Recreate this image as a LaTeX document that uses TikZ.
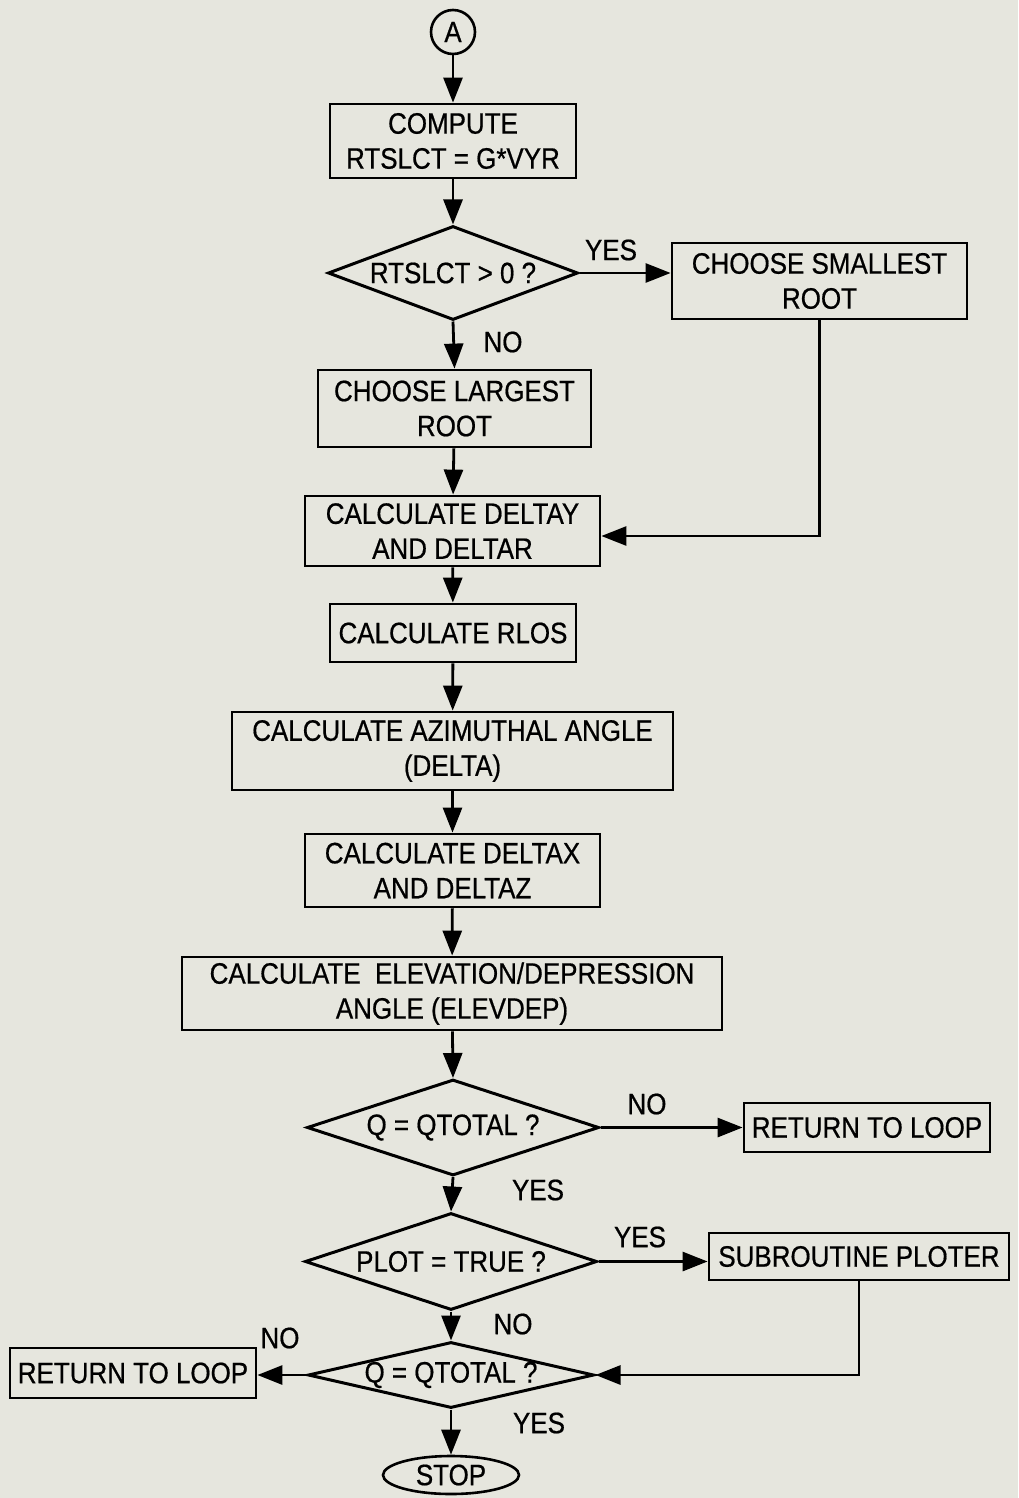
\documentclass[tikz,border=0pt]{standalone}
\usepackage{fontspec}
\setmainfont{Liberation Sans}[FakeStretch=0.88,FakeBold=0.6]
\usetikzlibrary{shapes.geometric,arrows.meta}
\definecolor{paper}{RGB}{230,230,222}
\begin{document}
\begin{tikzpicture}[x=1pt,y=-1pt,
  every node/.style={font=\fontsize{29.5}{35}\selectfont, text=black},
  box/.style={draw, line width=2.8pt, rectangle, inner sep=0pt, align=center},
  dia/.style={draw, line width=3pt, diamond, inner sep=0pt, shape aspect=4},
  lbl/.style={inner sep=0pt},
  flow/.style={line width=2.8pt, -{Triangle[length=25pt,width=19pt]}}
]
\fill[paper] (0,0) rectangle (1018,1498);
\useasboundingbox (0,0) rectangle (1018,1498);

\node[draw, circle, line width=2.6pt, minimum size=44pt, inner sep=0pt] (A) at (453,32) {A};
\node[box, minimum width=246pt, minimum height=74pt] (b1) at (453,141) {COMPUTE\\RTSLCT = G*VYR};
\node[dia, minimum width=250pt, minimum height=94pt] (d1) at (453,273) {\makebox[0pt]{RTSLCT > 0 ?}};
\node[box, minimum width=295pt, minimum height=76pt] (small) at (819.5,281) {CHOOSE SMALLEST\\ROOT};
\node[box, minimum width=273pt, minimum height=77pt] (large) at (454.5,408.5) {CHOOSE LARGEST\\ROOT};
\node[box, minimum width=295pt, minimum height=70pt] (dy) at (452.5,531) {CALCULATE DELTAY\\AND DELTAR};
\node[box, minimum width=246pt, minimum height=58pt] (rlos) at (453,633) {CALCULATE RLOS};
\node[box, minimum width=441pt, minimum height=78pt] (azim) at (452.5,751) {CALCULATE AZIMUTHAL ANGLE\\(DELTA)};
\node[box, minimum width=295pt, minimum height=73pt] (dx) at (452.5,870.5) {CALCULATE DELTAX\\AND DELTAZ};
\node[box, minimum width=540pt, minimum height=73pt] (elev) at (452,993.5) {CALCULATE \ ELEVATION/DEPRESSION\\ANGLE (ELEVDEP)};
\node[dia, minimum width=292pt, minimum height=96pt] (d2) at (453,1127.5) {\makebox[0pt]{Q = QTOTAL ?}};
\node[box, minimum width=246pt, minimum height=49pt] (ret1) at (867,1127.5) {RETURN TO LOOP};
\node[dia, minimum width=292pt, minimum height=97pt] (d3) at (451,1261.5) {\makebox[0pt]{PLOT = TRUE ?}};
\node[box, minimum width=300pt, minimum height=47pt] (plot) at (859,1256.5) {SUBROUTINE PLOTER};
\node[dia, minimum width=286pt, minimum height=66pt] (d4) at (451,1375) {\makebox[0pt]{Q = QTOTAL ?}};
\node[box, minimum width=246pt, minimum height=50pt] (ret2) at (133,1373) {RETURN TO LOOP};
\node[draw, ellipse, line width=2.6pt, minimum width=136pt, minimum height=38pt, inner sep=0pt] (stop) at (451,1475) {STOP};

\node[lbl] (y1) at (611,250) {YES};
\node[lbl] (n1) at (503,342) {NO};
\node[lbl] (n2) at (647,1104) {NO};
\node[lbl] (y2) at (538,1190) {YES};
\node[lbl] (y3) at (640,1237) {YES};
\node[lbl] (n3) at (513,1324) {NO};
\node[lbl] (n4) at (280,1338) {NO};
\node[lbl] (y4) at (539,1423) {YES};

\draw[flow] (A) -- (b1);
\draw[flow] (b1) -- (d1);
\draw[flow] (d1.east) -- (d1.east -| small.west);
\draw[flow] (d1.south) -- (large.north);
\draw[flow] (large) -- (dy);
\draw[flow] (small.south) |- ([yshift=-5pt]dy.east);
\draw[flow] (dy) -- (rlos);
\draw[flow] (rlos) -- (azim);
\draw[flow] (azim) -- (dx);
\draw[flow] (dx) -- (elev);
\draw[flow] (elev) -- (d2.north);
\draw[flow] (d2.east) -- (d2.east -| ret1.west);
\draw[flow] (d2.south) -- (d3.north);
\draw[flow] (d3.east) -- (d3.east -| plot.west);
\draw[flow] (d3.south) -- (d4.north);
\draw[flow] (plot.south) |- (d4.east);
\draw[flow] (d4.west) -- (d4.west -| ret2.east);
\draw[flow] (d4.south) -- (stop.north);
\end{tikzpicture}
\end{document}
